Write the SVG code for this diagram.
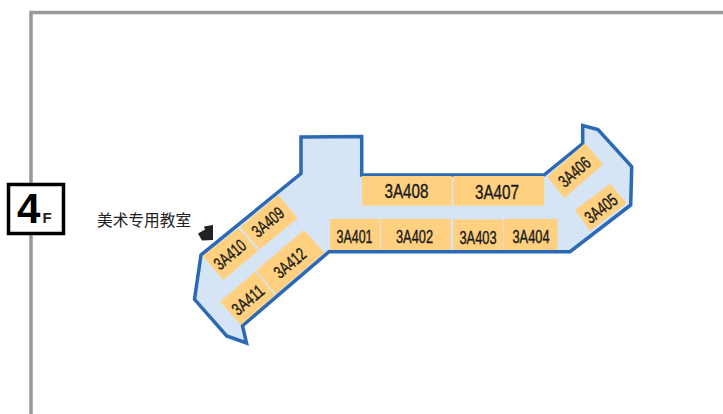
<svg xmlns="http://www.w3.org/2000/svg" width="723" height="414" viewBox="0 0 723 414">
<style>
.room{fill:#ffd07f}
.t{font-family:"Liberation Sans",sans-serif;font-size:17.500px;fill:#1a1a1a;text-anchor:middle;stroke:#1a1a1a;stroke-width:.4}
.b{font-size:21px}
</style>
<rect width="723" height="414" fill="#fff"/>
<path d="M723 12.500H31V414" fill="none" stroke="#999" stroke-width="3.500"/>
<g id="floor-badge">
<rect x="8.500" y="184.500" width="55" height="49" fill="#fff" stroke="#000" stroke-width="3.500"/>
<text x="17" y="223" font-family="'Liberation Sans',sans-serif" font-size="42" font-weight="700">4</text>
<text x="42.500" y="222.500" font-family="'Liberation Sans',sans-serif" font-size="15" font-weight="700" fill="#222">F</text>
</g>
<g id="floor-plan">
<path d="M301 137L361.700 136.500V175H544L582.700 143.500V125.500L598 129.500L631.700 166.700L630.700 205L570 251.700H329L242.500 325.700L246.500 343L226.700 336L194.500 299.300L201 255L301 173.500Z" fill="#d5e5f6" stroke="#2b69b5" stroke-width="3.500"/>
</g>
<g id="room-3A408"><rect class="room" x="362" y="176" width="89.700" height="29.700"/><text class="t b" x="406.500" y="198" textLength="44" lengthAdjust="spacingAndGlyphs">3A408</text></g>
<g id="room-3A407"><rect class="room" x="453.300" y="176" width="91" height="29.700"/><text class="t b" x="497" y="199" textLength="44" lengthAdjust="spacingAndGlyphs">3A407</text></g>
<g id="room-3A401"><rect class="room" x="330" y="219" width="50" height="31"/><text class="t" x="354.500" y="243" textLength="36" lengthAdjust="spacingAndGlyphs">3A401</text></g>
<g id="room-3A402"><rect class="room" x="381" y="219" width="70" height="31"/><text class="t" x="414.500" y="243" textLength="37" lengthAdjust="spacingAndGlyphs">3A402</text></g>
<g id="room-3A403"><rect class="room" x="453.300" y="219.500" width="50" height="30.500"/><text class="t" x="478" y="244" textLength="37" lengthAdjust="spacingAndGlyphs">3A403</text></g>
<g id="room-3A404"><rect class="room" x="504" y="219" width="53.700" height="31"/><text class="t" x="531" y="243" textLength="37" lengthAdjust="spacingAndGlyphs">3A404</text></g>
<g id="room-3A406"><polygon class="room" points="585,143.300 603.300,164.300 564.300,198.300 547.300,176.700"/><text class="t" transform="translate(574.500,172) rotate(-41)" y="6" textLength="36" lengthAdjust="spacingAndGlyphs">3A406</text></g>
<g id="room-3A405"><polygon class="room" points="610,184 626.700,203.300 590,231 575,210"/><text class="t" transform="translate(601,208.500) rotate(-38)" y="6" textLength="36" lengthAdjust="spacingAndGlyphs">3A405</text></g>
<g id="room-3A409"><polygon class="room" points="278.300,195 297.700,218.300 260,249.300 240,227.300"/><text class="t" transform="translate(268,222) rotate(-40)" y="6" textLength="36" lengthAdjust="spacingAndGlyphs">3A409</text></g>
<g id="room-3A410"><polygon class="room" points="238.300,228.300 258.300,250.700 223.300,280 202.700,256"/><text class="t" transform="translate(230,254.500) rotate(-40)" y="6" textLength="36" lengthAdjust="spacingAndGlyphs">3A410</text></g>
<g id="room-3A412"><polygon class="room" points="304,230 324.300,252.700 276,294 256,270.700"/><text class="t" transform="translate(290,263) rotate(-40)" y="6" textLength="36" lengthAdjust="spacingAndGlyphs">3A412</text></g>
<g id="room-3A411"><polygon class="room" points="255,271.700 275,295 241,325 220,301.700"/><text class="t" transform="translate(248,300) rotate(-40)" y="6" textLength="36" lengthAdjust="spacingAndGlyphs">3A411</text></g>
<g id="label-art-room">
<text x="97" y="226" font-family="'Noto Sans CJK SC','Noto Sans CJK JP',sans-serif" font-size="15.700" fill="#222">美术专用教室</text>
<polygon points="198,233.500 205,229.500 204,226.500 213,225 213,240 202,240.500" fill="#222"/>
</g>
</svg>
